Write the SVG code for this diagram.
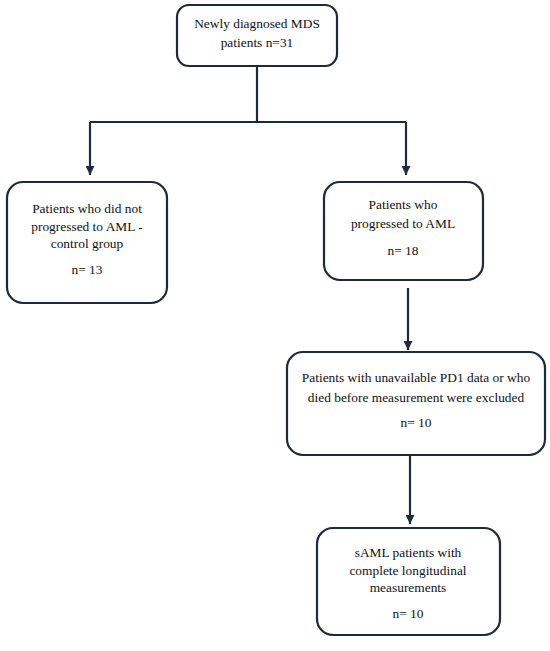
<svg xmlns="http://www.w3.org/2000/svg" width="550" height="651" viewBox="0 0 550 651">
<defs>
<marker id="ah" viewBox="0 0 10 10" refX="10" refY="5" markerWidth="9" markerHeight="9" markerUnits="userSpaceOnUse" orient="auto">
<path d="M0,0 L10,5 L0,10 z" fill="#1c2a3c"/>
</marker>
<style>
.box{fill:#fff;stroke:#1c2a3c;stroke-width:2.2}
.t{font-family:"Liberation Serif","Times New Roman",serif;font-size:13.4px;fill:#111;text-anchor:middle}
.c{fill:none;stroke:#1c2a3c;stroke-width:2.2}
</style>
</defs>
<rect width="550" height="651" fill="#fff"/>
<g id="connectors">
<path class="c" d="M257,67 V122"/>
<path class="c" d="M90,122 H406"/>
<path class="c" d="M90,122 V175" marker-end="url(#ah)"/>
<path class="c" d="M406,122 V175" marker-end="url(#ah)"/>
<path class="c" d="M408,288 V350" marker-end="url(#ah)"/>
<path class="c" d="M410,456 V524" marker-end="url(#ah)"/>
</g>
<g id="n1">
<rect class="box" x="177" y="5" width="160" height="61" rx="12"/>
<text class="t" x="257" y="28">Newly diagnosed MDS</text>
<text class="t" x="257" y="47">patients n=31</text>
</g>
<g id="n2">
<rect class="box" x="7" y="182" width="160" height="121" rx="16"/>
<text class="t" x="87" y="213">Patients who did not</text>
<text class="t" x="87" y="231">progressed to AML -</text>
<text class="t" x="87" y="248">control group</text>
<text class="t" x="87" y="274">n= 13</text>
</g>
<g id="n3">
<rect class="box" x="324" y="182" width="159" height="98" rx="16"/>
<text class="t" x="403" y="209">Patients who</text>
<text class="t" x="403" y="228">progressed to AML</text>
<text class="t" x="403" y="255">n= 18</text>
</g>
<g id="n4">
<rect class="box" x="287" y="352" width="258" height="103" rx="16"/>
<text class="t" x="416" y="382">Patients with unavailable PD1 data or who</text>
<text class="t" x="416" y="402">died before measurement were excluded</text>
<text class="t" x="416" y="427">n= 10</text>
</g>
<g id="n5">
<rect class="box" x="317" y="528" width="183" height="107" rx="16"/>
<text class="t" x="408" y="557">sAML patients with</text>
<text class="t" x="408" y="575">complete longitudinal</text>
<text class="t" x="408" y="592">measurements</text>
<text class="t" x="408" y="618">n= 10</text>
</g>
</svg>
